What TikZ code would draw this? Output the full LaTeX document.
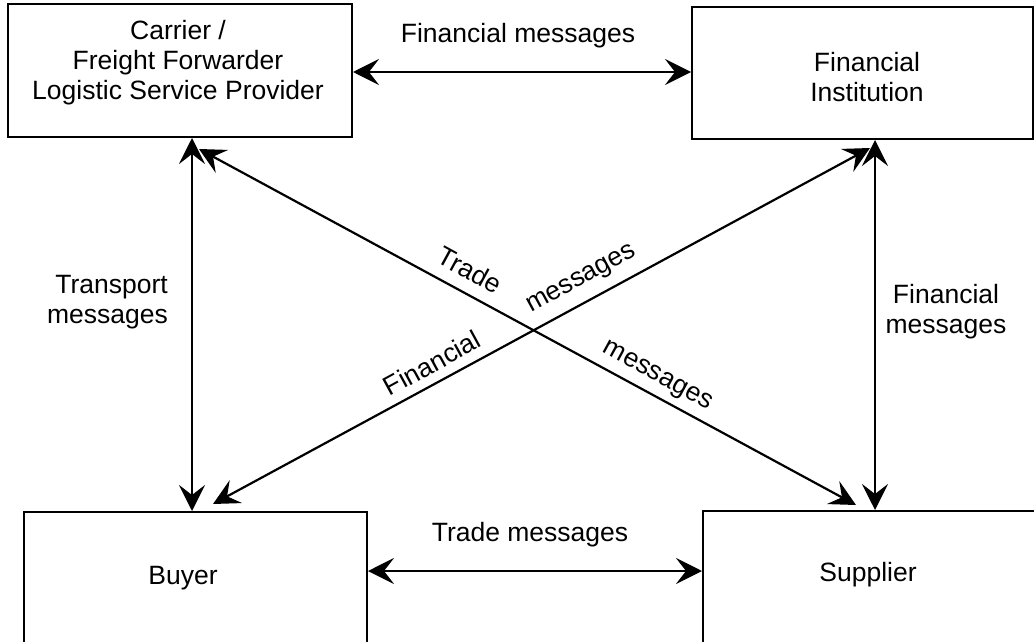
\documentclass[tikz,border=0pt]{standalone}
\usepackage{fontspec}
\setmainfont{Liberation Sans}
\usetikzlibrary{arrows.meta}
\begin{document}
\begin{tikzpicture}[x=1pt,y=-1pt,
  box/.style={draw,line width=2pt,rectangle,inner sep=0pt},
  txt/.style={align=center,inner sep=0pt,font=\fontsize{26.5}{30}\selectfont},
  arr/.style={line width=2.2pt,{Stealth[length=26pt,width=26pt,inset=10pt]}-{Stealth[length=26pt,width=26pt,inset=10pt]}}]
\useasboundingbox (0,0) rectangle (1034,642);
\clip (0,0) rectangle (1034,642);
% boxes
\node[box,minimum width=344pt,minimum height=133pt] (carrier) at (180,70.5) {};
\node[box,minimum width=341pt,minimum height=132pt] (fi) at (862.5,73) {};
\node[box,minimum width=343pt,minimum height=138pt] (buyer) at (195.5,581) {};
\node[box,minimum width=342pt,minimum height=139pt] (supplier) at (874,580.5) {};
% box texts
\node[txt] (carriertxt) at (178,63) {Carrier /\\Freight Forwarder\\Logistic Service Provider};
\node[txt] (fitxt) at (867,77) {Financial\\Institution};
\node[txt] (buyertxt) at (183,578) {Buyer};
\node[txt] (suppliertxt) at (868,575) {Supplier};
% connectors
\draw[arr] ([yshift=-1.5pt]carrier.east) -- ([yshift=-1.5pt]carrier.east -| fi.west);
\draw[arr] ([yshift=10pt]buyer.east) -- ([yshift=10pt]buyer.east -| supplier.west);
\draw[arr] ([xshift=12pt]carrier.south) -- ([xshift=12pt]carrier.south |- buyer.north);
\draw[arr] ([xshift=12.5pt]fi.south) -- ([xshift=12.5pt]fi.south |- supplier.north);
\draw[arr] ([shift={(19pt,-11pt)}]carrier.south) -- ([shift={(-18pt,5pt)}]supplier.north);
\draw[arr] ([shift={(7.5pt,-8pt)}]fi.south) -- ([shift={(17.5pt,7pt)}]buyer.north);
% labels
\node[txt] (l1) at (518,36) {Financial messages};
\node[txt] (l2) at (530,535) {Trade messages};
\node[txt,align=right,anchor=east] (l3) at (168,302) {Transport\\messages};
\node[txt] (l4) at (946,312) {Financial\\messages};
\node[txt,rotate=-28.6] (l5) at (470,270) {Trade};
\node[txt,rotate=-28.6] (l6) at (657,377) {messages};
\node[txt,rotate=28.6] (l7) at (582,280) {messages};
\node[txt,rotate=28.6] (l8) at (432,363) {Financial};
\end{tikzpicture}
\end{document}
